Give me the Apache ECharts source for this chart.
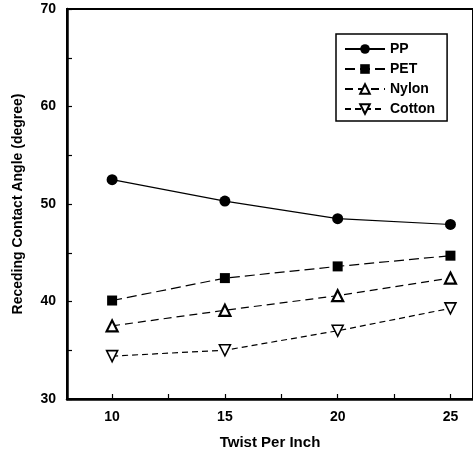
<!DOCTYPE html>
<html>
<head>
<meta charset="utf-8">
<script src="https://cdn.jsdelivr.net/npm/echarts@6/dist/echarts.min.js"></script>
<style>
html, body { margin: 0; padding: 0; background: #fff; }
#chart { width: 473px; height: 457px; }
</style>
</head>
<body>
<div id="chart"></div>
<script>
// 数据
var twist = [10, 15, 20, 25];
var ppVals = [52.5, 50.3, 48.5, 47.9];
var petVals = [40.1, 42.4, 43.6, 44.7];
var nylonVals = [37.5, 39.1, 40.6, 42.4];
var cottonVals = [34.4, 35.0, 37.0, 39.3];
var xTicks = [10, 12.5, 15, 17.5, 20, 22.5, 25];
var xLabels = [10, 15, 20, 25];
var yTicks = [30, 35, 40, 45, 50, 55, 60, 65, 70];
var yLabels = [30, 40, 50, 60, 70];

var fontName = 'Liberation Sans';

function pairs(vals) {
    var out = [];
    for (var i = 0; i < twist.length; i++) {
        out.push([twist[i], vals[i]]);
    }
    return out;
}

var myChart = echarts.init(document.getElementById('chart'));
var option = {
    backgroundColor: '#fff',
    animation: false,
    grid: {
        left: 67,
        top: 9,
        width: 414,
        height: 390,
        show: true,
        borderColor: '#000',
        borderWidth: 2
    },
    legend: {
        orient: 'vertical',
        left: 336,
        top: 34,
        itemWidth: 40,
        itemHeight: 12,
        itemGap: 6,
        padding: [8, 12, 5, 8],
        borderColor: '#000',
        borderWidth: 1.5,
        backgroundColor: '#fff',
        textStyle: { fontFamily: fontName, fontWeight: 'bold', fontSize: 14, color: '#000' },
        data: ['PP', 'PET', 'Nylon', 'Cotton']
    },
    xAxis: {
        type: 'value',
        min: 8,
        max: 26,
        name: 'Twist Per Inch',
        nameLocation: 'middle',
        nameGap: 36,
        nameTextStyle: { fontFamily: fontName, fontWeight: 'bold', fontSize: 15, color: '#000' },
        axisLine: { lineStyle: { color: '#000', width: 2.5 } },
        axisTick: { inside: true, length: 5, customValues: xTicks, lineStyle: { color: '#000', width: 1.2 } },
        axisLabel: { customValues: xLabels, margin: 11, fontFamily: fontName, fontSize: 14, fontWeight: 'bold', color: '#000' },
        splitLine: { show: false }
    },
    yAxis: {
        type: 'value',
        min: 30,
        max: 70,
        name: 'Receding Contact Angle (degree)',
        nameLocation: 'middle',
        nameGap: 42,
        nameTextStyle: { fontFamily: fontName, fontWeight: 'bold', fontSize: 14, color: '#000' },
        axisLine: { lineStyle: { color: '#000', width: 2.5 } },
        axisTick: { inside: true, length: 5, customValues: yTicks, lineStyle: { color: '#000', width: 1.2 } },
        axisLabel: { customValues: yLabels, margin: 11, fontFamily: fontName, fontSize: 14, fontWeight: 'bold', color: '#000' },
        splitLine: { show: false }
    },
    series: [
        {
            name: 'PP',
            type: 'line',
            data: pairs(ppVals),
            symbol: 'circle',
            symbolSize: 11,
            itemStyle: { color: '#000' },
            lineStyle: { color: '#000', width: 1.2 }
        },
        {
            name: 'PET',
            type: 'line',
            data: pairs(petVals),
            symbol: 'rect',
            symbolSize: 10,
            itemStyle: { color: '#000' },
            lineStyle: { color: '#000', width: 1.2, type: [10, 5] }
        },
        {
            name: 'Nylon',
            type: 'line',
            data: pairs(nylonVals),
            symbol: 'triangle',
            symbolSize: 11,
            itemStyle: { color: '#fff', borderColor: '#000', borderWidth: 2.2 },
            lineStyle: { color: '#000', width: 1.2, type: [8, 5] }
        },
        {
            name: 'Cotton',
            type: 'line',
            data: pairs(cottonVals),
            symbol: 'triangle',
            symbolRotate: 180,
            symbolSize: 11,
            itemStyle: { color: '#fff', borderColor: '#000', borderWidth: 1.6 },
            lineStyle: { color: '#000', width: 1.2, type: [6, 4] }
        }
    ]
};
myChart.setOption(option);
</script>
</body>
</html>
